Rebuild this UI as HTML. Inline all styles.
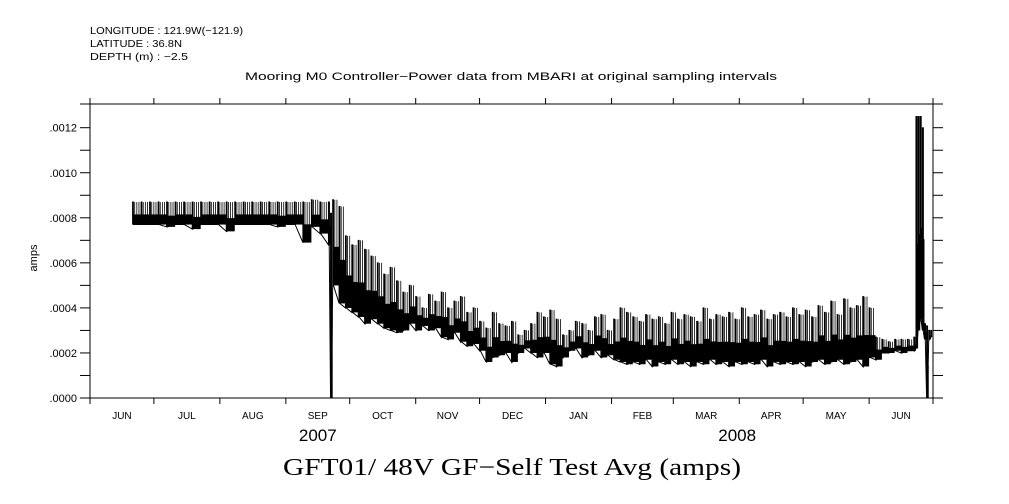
<!DOCTYPE html>
<html><head><meta charset="utf-8"><style>
html,body{margin:0;padding:0;background:#fff;}
svg{display:block;font-family:"Liberation Sans",sans-serif;}
</style></head><body>
<svg id="chart" width="1009" height="504" viewBox="0 0 1009 504">
<g font-size="10" fill="#000">
<text x="90" y="34" textLength="153" lengthAdjust="spacingAndGlyphs">LONGITUDE : 121.9W(−121.9)</text>
<text x="90" y="47" textLength="92" lengthAdjust="spacingAndGlyphs">LATITUDE : 36.8N</text>
<text x="90" y="60" textLength="98" lengthAdjust="spacingAndGlyphs">DEPTH (m) : −2.5</text>
</g>
<text x="245" y="80" textLength="532" lengthAdjust="spacingAndGlyphs" font-size="11">Mooring M0 Controller−Power data from MBARI at original sampling intervals</text>
<text transform="translate(37,258) rotate(-90)" text-anchor="middle" font-size="11">amps</text>
<text x="283" y="475" textLength="458" lengthAdjust="spacingAndGlyphs" font-size="24" font-family="Liberation Serif,serif">GFT01/ 48V GF−Self Test Avg (amps)</text>
<g id="axes"></g>
<g id="series"></g>
</svg>
<script>
const monthLabels=["JUN","JUL","AUG","SEP","OCT","NOV","DEC","JAN","FEB","MAR","APR","MAY","JUN"];
const monthStarts=[0,30,61,92,122,153,183,214,245,274,305,335,366,396];
const yTicks=[0,0.0002,0.0004,0.0006,0.0008,0.0010,0.0012];
const yTickLabels=[".0000",".0002",".0004",".0006",".0008",".0010",".0012"];
const yearLabels=["2007","2008"];
const yearDays=[107,304];
const days=[20,24,28,32,36,40,44,48,52,56,60,64,68,72,76,80,84,88,92,96,100,104,108,112,113,114,117,120,123,126,129,132,135,138,141,144,147,150,153,156,159,162,165,168,171,174,177,180,183,186,189,192,195,198,201,204,207,210,213,216,219,222,225,228,231,234,237,240,243,246,249,252,255,258,261,264,267,270,273,276,279,282,285,288,291,294,297,300,303,306,309,312,315,318,321,324,327,330,333,336,339,342,345,348,351,354,357,360,363,366,369,372,375,378,381,384,387,388,389,390,391,392,393,394,395];
const lows=[0.00077,0.00077,0.00077,0.00077,0.00076,0.00077,0.00077,0.00075,0.00077,0.00077,0.00077,0.00074,0.00077,0.00077,0.00077,0.00077,0.00077,0.00076,0.00077,0.00077,0.00069,0.00076,0.00073,0.00068,0,0.0005,0.00042,0.0004,0.00038,0.00036,0.00033,0.00035,0.00033,0.00031,0.0003,0.00029,0.0003,0.00033,0.0003,0.00032,0.0003,0.00031,0.00027,0.00026,0.00029,0.00025,0.00023,0.00024,0.00021,0.00016,0.00018,0.00019,0.0002,0.00016,0.0002,0.00022,0.0002,0.00018,0.0002,0.00015,0.00014,0.00018,0.00021,0.00022,0.00018,0.00019,0.00021,0.00018,0.00019,0.00017,0.00016,0.00015,0.00016,0.00015,0.00017,0.00014,0.00016,0.00015,0.00017,0.00015,0.00016,0.00014,0.00016,0.00015,0.00017,0.00015,0.00016,0.00014,0.00016,0.00015,0.00016,0.00015,0.00017,0.00014,0.00016,0.00015,0.00016,0.00015,0.00016,0.00014,0.00016,0.00017,0.00015,0.00016,0.00017,0.00015,0.00016,0.00017,0.00014,0.00018,0.00017,0.0002,0.0002,0.00021,0.0002,0.00021,0.00021,0.00022,0.0003,0.00035,0.0003,0.00026,0,0.00026,0.00027];
const highs=[0.00087,0.00087,0.00087,0.00087,0.00087,0.00087,0.00087,0.00087,0.00087,0.00087,0.00087,0.00087,0.00087,0.00087,0.00087,0.00087,0.00087,0.00087,0.00087,0.00087,0.00087,0.00088,0.00087,0.00087,0.00082,0.00088,0.00085,0.00072,0.00068,0.0007,0.00066,0.00063,0.0006,0.00055,0.00058,0.00052,0.00047,0.0005,0.00045,0.0004,0.00046,0.00043,0.00047,0.0004,0.00043,0.00045,0.00038,0.0004,0.00034,0.00031,0.00038,0.00033,0.00032,0.00034,0.00028,0.0003,0.00033,0.00038,0.00036,0.00039,0.00035,0.00028,0.0003,0.00034,0.00033,0.0003,0.00036,0.00037,0.0003,0.00035,0.0004,0.00038,0.00036,0.00034,0.00037,0.00035,0.00036,0.00033,0.00038,0.00035,0.00037,0.00036,0.00034,0.0004,0.00035,0.00037,0.00036,0.00038,0.00035,0.0004,0.00036,0.00037,0.00039,0.00035,0.00037,0.00038,0.00036,0.0004,0.00037,0.00039,0.00036,0.00041,0.00038,0.00043,0.00037,0.00044,0.0004,0.00041,0.00045,0.0004,0.00027,0.00026,0.00025,0.00026,0.00026,0.00026,0.00027,0.00125,0.00125,0.00125,0.0012,0.00033,0.00032,0.0003,0.0003];
const X0=90,X1=933,Y0=398,Y1=127.7,TOTAL=396;
const xs=d=>X0+(X1-X0)*d/TOTAL;
const ys=v=>Y0-(Y0-Y1)*v/0.0012;
const NS="http://www.w3.org/2000/svg";
function mk(tag,attrs,parent){const e=document.createElementNS(NS,tag);for(const k in attrs)e.setAttribute(k,attrs[k]);parent.appendChild(e);return e;}
const ax=document.getElementById('axes');
let f=mk('path',{d:`M80 ${Y0}H943M80 104H943M${X0} 104V${Y0}M${X1} 104V${Y0}`,stroke:'#000','stroke-width':1,fill:'none'},ax);


for(let i=0;i<=12;i++){const v=i*0.0001;const y=ys(v);
 let t=mk('line',{x1:80,x2:X0,y1:y,y2:y,stroke:'#000'},ax);
 
 
 let r=mk('line',{x1:X1,x2:943,y1:y,y2:y,stroke:'#000'},ax);
 
 }
yTicks.forEach((v,i)=>{let t=mk('text',{x:77,y:ys(v)+4,'text-anchor':'end','font-size':11},ax);t.textContent=yTickLabels[i];
 
 });
monthStarts.forEach((d,i)=>{const x=xs(d);
 let b=mk('line',{x1:x,x2:x,y1:Y0,y2:404,stroke:'#000'},ax);
 
 
 let t=mk('line',{x1:x,x2:x,y1:98,y2:104,stroke:'#000'},ax);
 
 
 if(i<monthLabels.length){const xm=(xs(d)+xs(monthStarts[i+1]))/2;
  let l=mk('text',{x:xm,y:419,'text-anchor':'middle','font-size':10},ax);l.textContent=monthLabels[i];
  
  }});
yearLabels.forEach((s,i)=>{let l=mk('text',{x:xs(yearDays[i]),y:441,'text-anchor':'middle','font-size':17},ax);l.textContent=s;
 
 });
const sg=document.getElementById('series');
let pts=[];
days.forEach((d,i)=>{const x=xs(d);pts.push(x+','+ys(lows[i]));pts.push(x+','+ys(highs[i]));pts.push((x+0.8)+','+ys(highs[i]));pts.push((x+0.8)+','+ys(lows[i]));});
let pl=mk('polyline',{points:pts.join(' '),fill:'none',stroke:'#000','stroke-width':1},sg);


days.forEach((d,i)=>{
 if(i<days.length-1 && days[i+1]-d<=4){
  const xa=xs(d),xb=xs(days[i+1]),w=xb-xa;
  const n=Math.max(2,Math.round(w/2));
  for(let k=1;k<n;k++){
   const xx=xa+w*k/n;
   let v=mk('line',{x1:xx,x2:xx,y1:ys(lows[i]),y2:ys(highs[i]),stroke:'#000','stroke-width':0.8},sg);
   
   
  }
  const top=lows[i]+(highs[i]-lows[i])*0.45;
  let c=mk('rect',{x:xa,y:ys(top),width:w,height:Math.max(1,ys(lows[i])-ys(top)),fill:'#000'},sg);
  
  }
});
</script>
</body></html>
